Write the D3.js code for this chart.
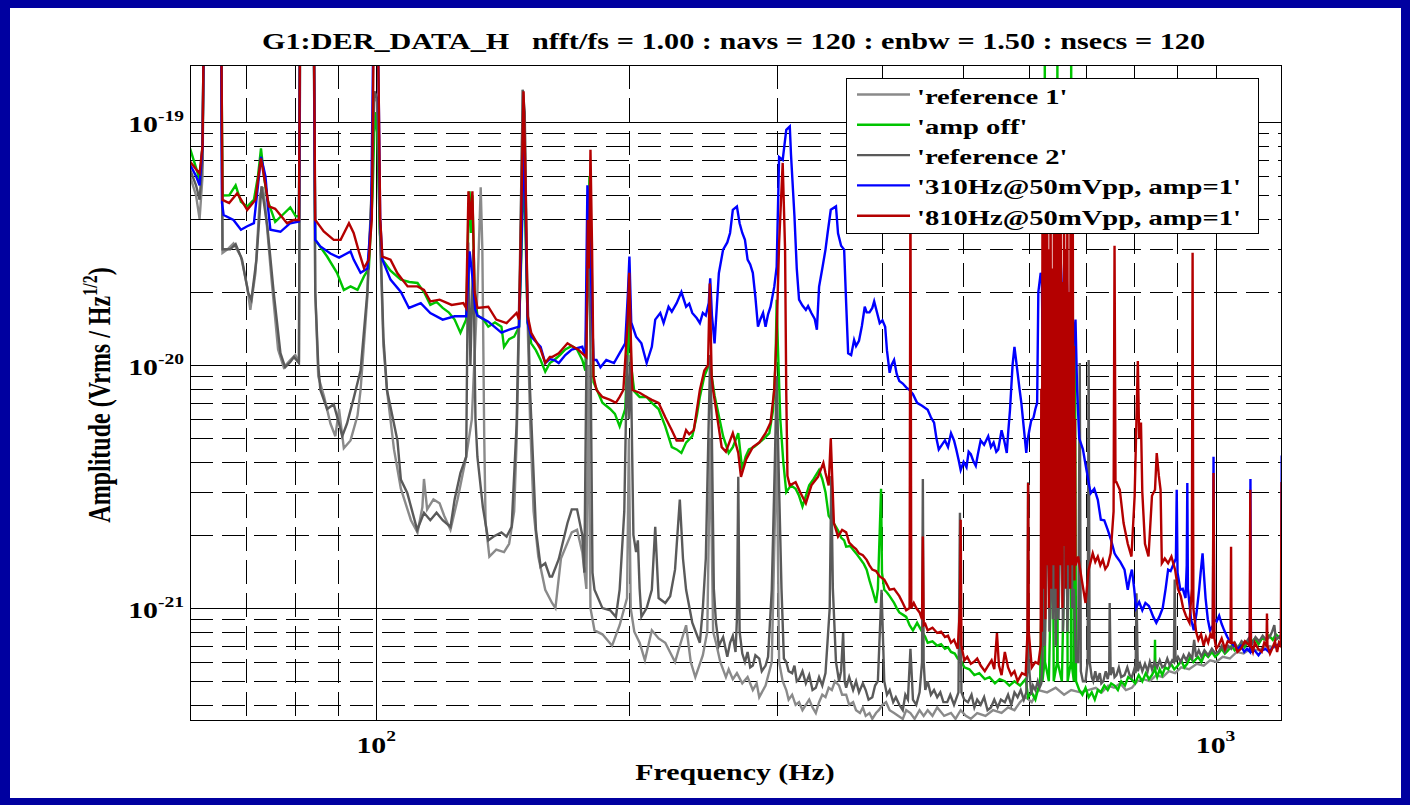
<!DOCTYPE html>
<html>
<head>
<meta charset="utf-8">
<script src="https://cdn.jsdelivr.net/npm/d3@7"></script>
<style>
  html, body { margin: 0; padding: 0; background: #0000a0; }
  svg { display: block; }
</style>
</head>
<body>
<svg id="chart" width="1410" height="805"></svg>
<script>
// Amplitude spectral densities, amplitude in units of 1e-21 Vrms/Hz^(1/2), frequency in Hz.
// Values above the plot ceiling are lines that run off the top of the axes.

const ref1 = [
  [60, 60], [61, 50], [61.6, 40], [62.1, 60], [62.4, 400], [65.3, 400], [65.6, 29], [66.5, 30], [67.6, 31.7],
  [69, 28], [70.2, 21], [70.8, 16.9], [71.8, 24], [72.7, 50], [73.3, 54], [73.8, 44], [75, 23], [76.4, 11.6],
  [77.6, 9.8], [79, 10.5], [80.1, 11], [80.9, 10.3], [81.2, 400], [84.2, 400], [84.6, 20], [85.3, 9], [86.7, 7.4],
  [88.2, 5.75], [89.4, 5.1], [90.3, 6.6], [91.5, 4.55], [93.2, 4.9], [95, 6.2], [95.8, 7.9], [97.6, 19], [98.9, 58],
  [99.5, 134], [100.3, 120], [100.9, 40], [102, 12], [103, 7.9], [105, 4.5], [107, 3.1], [110, 2.3], [112, 2.05],
  [113.5, 2.6], [114, 3.4], [115, 2.55], [117, 2.8], [119, 2.7], [120.5, 2.4], [122.6, 2.1], [125, 2.8], [128, 4.2],
  [130, 6], [132, 20], [133.2, 54], [133.8, 30], [134.5, 5], [135, 2.24], [136.4, 1.63], [139, 1.74], [142, 1.7],
  [144, 1.84], [146, 2.5], [147, 4.9], [148.3, 20], [149.5, 136], [150.3, 100], [151.2, 20], [152.5, 6], [154, 2.5],
  [156, 1.63], [159, 1.19], [162, 1.05], [163.5, 1.0], [166, 1.6], [171, 2.05], [173.5, 2.1], [176, 1.7], [178, 1.2],
  [179, 10], [180, 1.0], [182, 0.81], [186, 0.78], [191, 0.70], [195, 0.85], [199, 1.1], [200, 5], [201, 1.0],
  [203, 0.8], [206, 0.72], [209, 0.61], [213, 0.81], [217, 0.75], [221, 0.72], [227, 0.60], [230, 0.7], [234, 0.85],
  [237, 0.6], [240, 0.52], [245, 0.64], [248, 0.8], [250, 5], [252, 0.8], [254, 0.72], [257, 0.6], [261, 0.52],
  [263, 0.56], [266, 0.51], [269, 0.54], [273, 0.49], [277, 0.52], [281, 0.46], [284, 0.49], [286, 0.43], [291, 0.48],
  [296, 0.6], [300, 5], [302, 0.6], [305, 0.5], [308, 0.46], [310, 0.42], [313, 0.44], [316, 0.4], [319, 0.41],
  [322, 0.38], [325, 0.40], [328, 0.42], [331, 0.39], [334, 0.37], [337, 0.41], [340, 0.44], [343, 0.43], [346, 0.47],
  [349, 0.46], [352, 0.5], [356, 0.48], [359, 0.44], [363, 0.44], [366, 0.4], [370, 0.41], [373, 0.38], [377, 0.37],
  [380, 0.39], [383, 0.36], [387, 0.37], [390, 0.35], [394, 0.37], [397, 0.38], [401, 0.4], [405, 0.41], [409, 0.38],
  [414, 0.37], [419, 0.36], [424, 0.35], [428, 0.38], [433, 0.37], [438, 0.35], [444, 0.38], [449, 0.36], [454, 0.38],
  [460, 0.36], [466, 0.39], [475, 0.36], [484, 0.37], [490, 0.35], [497, 0.38], [504, 0.36], [511, 0.35], [520, 0.37],
  [532, 0.36], [543, 0.38], [556, 0.37], [566, 0.39], [576, 0.38], [585, 0.41], [594, 0.43], [604, 0.41], [615, 0.46],
  [630, 0.45], [645, 0.47], [660, 0.44], [673, 0.46], [690, 0.45], [705, 0.46], [720, 0.47], [732, 0.45], [745, 0.48],
  [757, 0.47], [770, 0.49], [782, 0.46], [795, 0.47], [807, 0.5], [820, 0.51], [835, 0.5], [850, 0.53], [865, 0.52],
  [880, 0.55], [895, 0.54], [910, 0.57], [930, 0.56], [950, 0.59], [968, 0.58], [985, 0.61], [1002, 0.6], [1020, 0.63],
  [1040, 0.62], [1060, 0.66], [1080, 0.65], [1100, 0.68], [1125, 0.67], [1150, 0.7], [1175, 0.69], [1200, 0.72]
];

const ampOff = [
  [60, 78], [61, 65], [61.6, 58], [62.1, 80], [62.4, 400], [65.3, 400], [65.6, 49.9], [66.8, 50], [68, 55], [69, 47],
  [70.2, 45], [71.5, 48], [72.3, 60], [72.9, 78], [73.5, 60], [74.2, 48], [75.8, 38.9], [77.6, 42], [79, 44.6],
  [80.2, 41], [80.9, 41], [81.2, 400], [84.2, 400], [84.6, 32.8], [87.4, 28], [89.8, 24], [91.5, 20.4], [93.2, 21.1],
  [95, 20.4], [96.7, 23.2], [98, 25], [99, 50], [99.6, 110], [100.3, 90], [101, 35], [101.7, 27.2], [104, 24.5],
  [107, 22.5], [109.5, 22], [112, 21.8], [114, 20], [116, 17.7], [118, 18.2], [120, 17.2], [122, 16.5], [124, 15.4],
  [126, 13.6], [128, 15.4], [128.8, 40], [129.2, 52], [129.7, 35], [130.2, 50], [131, 20], [132, 16], [134, 15.5],
  [136, 14.4], [138.5, 15], [141, 14.4], [142, 11.9], [144, 12.8], [146, 13.1], [148, 14.4], [149, 30], [149.7, 60],
  [150.5, 40], [151.5, 15], [153, 12.3], [155, 11.5], [157, 10.5], [159, 9.4], [161, 10.2], [163, 10.5], [165.5, 11],
  [168, 11.6], [171, 12], [173.5, 11.6], [176, 10.5], [177.5, 9.5], [178.5, 25], [179.5, 60], [180.5, 30], [181.5, 8.5],
  [183, 8.0], [186, 7.0], [190, 6.6], [192.5, 6.3], [195, 5.6], [198, 6.6], [199.5, 12], [200.3, 18], [201.2, 10],
  [203, 7.8], [206, 7.4], [210, 7.4], [213, 7.0], [217, 6.6], [221, 5.6], [225, 4.6], [228, 4.5], [231, 4.35],
  [234, 4.8], [238, 5.1], [241, 6.2], [243, 7.4], [246, 9], [249, 10], [250, 11], [251, 9], [253, 7.5], [255, 6.6],
  [259, 5.1], [263, 4.35], [266, 4.6], [270, 5.25], [273, 3.7], [275.5, 4.2], [278, 4.5], [282, 4.6], [286, 4.8],
  [290, 5.0], [294, 5.25], [297, 6.5], [299, 10], [300, 18.6], [301, 12], [303, 6], [305.5, 4], [308, 3.0], [312, 3.2],
  [316, 3.1], [319, 2.9], [322, 2.62], [325, 2.9], [328, 3.2], [332, 3.4], [337, 3.7], [340, 3.4], [343, 3.0],
  [346, 2.4], [349, 2.3], [353, 2.16], [356, 2.05], [358, 1.95], [361, 1.9], [363, 1.79], [367, 1.8], [370, 1.74],
  [374, 1.66], [377, 1.6], [381, 1.52], [384, 1.44], [387, 1.3], [390, 1.19], [394, 1.05], [396, 1.2], [399.5, 3.1],
  [400.5, 1.4], [403, 1.19], [406, 1.16], [409, 1.12], [414, 1.05], [417, 1.0], [420, 0.96], [424, 0.94], [428, 0.92],
  [432, 0.85], [436, 0.81], [441, 0.87], [447, 0.8], [451, 0.76], [454, 0.72], [460, 0.73], [466, 0.70], [471, 0.71],
  [476, 0.68], [480, 0.69], [484, 0.66], [489, 0.65], [493, 0.62], [497, 0.61], [502, 0.57], [509, 0.56], [516, 0.53],
  [523, 0.54], [531, 0.51], [538, 0.52], [546, 0.49], [553, 0.51], [561, 0.50], [568, 0.48], [576, 0.50], [585, 0.48],
  [594, 0.51], [598, 0.43], [604, 0.45], [610, 0.42], [618, 0.5], [620, 0.96], [622, 0.5], [625.6, 0.6], [626, 400],
  [626.4, 0.6], [633, 0.5], [640, 3], [641.5, 0.5], [647.6, 0.6], [648, 400], [648.4, 0.6], [656, 0.5], [665, 5],
  [666.5, 0.5], [672.6, 0.6], [673, 400], [673.4, 0.6], [678, 0.5], [680, 15], [682, 0.5], [688, 0.46], [694, 0.44],
  [700, 0.47], [706, 0.43], [712, 0.45], [718, 0.42], [724, 0.46], [730, 0.45], [737, 0.48], [744, 0.46], [751, 0.49],
  [758, 0.48], [765, 0.46], [772, 0.50], [780, 0.48], [787, 0.52], [794, 0.51], [802, 0.49], [810, 0.53], [818, 0.50],
  [826, 0.54], [833, 0.51], [840, 0.53], [846, 0.56], [847, 0.74], [848, 0.55], [852, 0.52], [858, 0.56], [864, 0.53],
  [871, 0.57], [878, 0.56], [885, 0.59], [893, 0.56], [902, 0.58], [910, 0.61], [918, 0.57], [925, 0.59], [933, 0.63],
  [941, 0.6], [953, 0.63], [962, 0.6], [971, 0.65], [980, 0.63], [990, 0.66], [999, 0.63], [1008, 0.65], [1017, 0.68],
  [1026, 0.65], [1035, 0.67], [1045, 0.7], [1054, 0.67], [1063, 0.69], [1073, 0.72], [1083, 0.69], [1093, 0.73],
  [1102, 0.72], [1114, 0.75], [1125, 0.71], [1136, 0.75], [1147, 0.74], [1158, 0.77], [1170, 0.74], [1180, 0.78],
  [1190, 0.76], [1200, 0.74]
];

const ref2 = [
  [60, 64], [61, 55], [61.6, 48], [62.1, 70], [62.4, 400], [65.3, 400], [65.6, 30], [67, 30], [68, 31.5], [69.2, 27.2],
  [70.4, 19.8], [71, 18.6], [72, 27.2], [73, 54.5], [74.2, 37], [75.5, 19.8], [76.9, 11.2], [77.9, 9.8], [79, 10.3],
  [79.8, 10.8], [80.9, 10.2], [81.2, 400], [84.2, 400], [84.6, 20], [85.3, 10], [85.8, 7.9], [87.4, 6.6], [89, 6.9],
  [90.3, 5.75], [91.1, 5.1], [92.3, 5.75], [94, 7.3], [95.8, 9.5], [97.6, 20], [98.9, 60], [99.5, 134], [100.3, 125],
  [100.9, 45], [102, 13], [103, 7.9], [106, 4.9], [107, 3.38], [108.9, 2.98], [111.9, 2.1], [114, 2.47], [116, 2.3],
  [118, 2.47], [120, 2.3], [122.6, 2.16], [124, 2.8], [126, 3.6], [128, 4.2], [128.7, 32], [129.5, 10], [130.5, 30],
  [131.3, 6], [132, 4.2], [134, 2.6], [136, 1.9], [138, 1.97], [141, 2.05], [143, 1.97], [145, 2.16], [147, 5.75],
  [148.3, 25], [149.5, 136], [150.3, 110], [151.2, 25], [152.5, 7.9], [155, 2.1], [157, 1.48], [159, 1.53], [161, 1.35],
  [162, 1.35], [165, 1.59], [169, 2.24], [171, 2.55], [173.5, 2.55], [176, 2.0], [177, 1.4], [178.2, 15], [179, 38],
  [180, 12], [181, 1.4], [182, 1.19], [186, 1.0], [190, 0.98], [193, 0.92], [195, 1.19], [197.5, 2.5], [199, 11],
  [200, 6], [201, 11], [202.5, 2], [204, 1.7], [205, 1.9], [206, 1.2], [207, 0.92], [210, 1.0], [213, 1.19], [215, 2.16],
  [217, 1.1], [221, 1.05], [224, 1.12], [227, 1.44], [230, 2.8], [232, 1.6], [234, 1.19], [238, 0.87], [243, 0.72],
  [245, 1.0], [247, 1.6], [249, 6], [250, 11], [251, 6], [252.5, 1.2], [254, 0.87], [256, 0.7], [259, 0.76],
  [262, 0.63], [264, 0.72], [266, 0.77], [268, 0.66], [269, 0.9], [270, 3.47], [271, 0.8], [273, 0.65], [275, 0.60],
  [277, 0.66], [279, 0.57], [281, 0.58], [283, 0.64], [286, 0.62], [288, 0.55], [291, 0.58], [293, 0.63], [296, 1.19],
  [298.5, 4], [300, 9], [301.5, 4], [304, 1.2], [306, 0.62], [308, 0.60], [310, 0.55], [313, 0.54], [315, 0.58],
  [317, 0.5], [319, 0.51], [322, 0.55], [325, 0.49], [328, 0.53], [331, 0.46], [334, 0.47], [337, 0.52], [340, 0.48],
  [343, 0.54], [347, 1.0], [348.5, 3.5], [350, 1.2], [353, 0.6], [356, 0.5], [358, 0.55], [360, 0.79], [361.5, 0.5],
  [363, 0.47], [366, 0.52], [370, 0.46], [373, 0.5], [376, 0.45], [380, 0.49], [383, 0.46], [386, 0.42], [390, 0.43],
  [393, 0.48], [396, 0.5], [400, 1.19], [403, 0.5], [406, 0.44], [409, 0.46], [413, 0.41], [416, 0.43], [420, 0.4],
  [424, 0.38], [427, 0.44], [430, 0.42], [433, 0.68], [436, 0.42], [440, 0.4], [444, 0.45], [447, 0.6], [448, 3.4],
  [449, 0.6], [451, 0.46], [454, 0.50], [458, 0.44], [462, 0.46], [466, 0.43], [470, 0.45], [474, 0.41], [479, 0.41],
  [483, 0.44], [488, 0.4], [494, 0.45], [496, 2.47], [498, 0.45], [502, 0.42], [507, 0.41], [512, 0.44], [516, 0.39],
  [520, 0.42], [525, 0.4], [530, 0.43], [535, 0.38], [540, 0.39], [545, 0.42], [550, 0.39], [555, 0.42], [561, 0.41],
  [566, 0.44], [571, 0.4], [576, 0.45], [581, 0.43], [586, 0.46], [591, 0.42], [595, 0.45], [597, 0.6], [598, 3.3],
  [599, 0.6], [603, 0.44], [606, 0.48], [610, 0.46], [614, 0.5], [617, 0.47], [620, 0.49], [622, 0.6], [624, 3],
  [626, 0.7], [629, 1.5], [632, 4], [634, 0.8], [637, 2], [640, 0.9], [643, 2.5], [645, 0.7], [648, 5], [650, 0.9],
  [653, 2], [656, 3], [658, 0.8], [661, 1.5], [664, 4], [666, 0.8], [670, 2], [673, 8], [675, 1], [678, 1.2], [682, 0.6],
  [686, 0.6], [689, 10.2], [691, 0.55], [695, 0.5], [700, 0.5], [704, 0.6], [706, 10.5], [708, 0.6], [712, 0.52],
  [715, 0.5], [719, 0.55], [723, 0.5], [728, 0.54], [731, 0.49], [735, 0.5], [740, 0.55], [744, 0.51], [747, 0.55],
  [748, 1.05], [750, 0.53], [755, 0.57], [758, 0.52], [762, 0.53], [767, 0.57], [772, 0.52], [779, 0.53], [785, 0.57],
  [790, 0.53], [795, 0.52], [800, 0.56], [803, 0.54], [805, 1.15], [808, 0.55], [813, 0.59], [818, 0.55], [824, 0.59],
  [830, 0.55], [835, 0.6], [840, 0.56], [846, 0.6], [852, 0.57], [858, 0.61], [864, 0.57], [870, 0.58], [876, 0.62],
  [882, 0.58], [888, 0.61], [892, 0.6], [894, 1.31], [896, 0.6], [902, 0.63], [909, 0.6], [916, 0.64], [923, 0.61],
  [930, 0.65], [938, 0.62], [943, 0.74], [948, 0.63], [955, 0.67], [962, 0.63], [970, 0.67], [980, 0.64], [990, 0.68],
  [999, 0.65], [1008, 0.66], [1017, 0.7], [1026, 0.66], [1035, 0.7], [1044, 0.68], [1054, 0.72], [1064, 0.68],
  [1074, 0.73], [1084, 0.71], [1095, 0.75], [1105, 0.71], [1116, 0.76], [1127, 0.73], [1138, 0.77], [1149, 0.74],
  [1160, 0.76], [1168, 0.8], [1175, 0.85], [1180, 0.74], [1190, 0.76], [1200, 0.78]
];

const inj310 = [
  [60, 67], [61, 60], [61.6, 55], [62.1, 80], [62.4, 400], [65.3, 400], [65.5, 46.5], [65.8, 41.5], [67.6, 39.6],
  [69, 36.1], [70.2, 37.3], [71.5, 38.4], [72.3, 55], [72.9, 72], [73.8, 60], [74.3, 45], [74.8, 36.1], [76.9, 35.4],
  [79, 38.4], [80.9, 39], [81.2, 400], [84.2, 400], [84.6, 32.8], [85.8, 30.8], [88.2, 28.8], [90.3, 27.7], [93.2, 29.4],
  [94, 27.2], [95.8, 24], [97.6, 25], [98.6, 40], [99.3, 300], [100.4, 300], [101.1, 40], [101.7, 27.2], [104, 22.5],
  [107, 20], [109.4, 17.2], [113, 18], [116, 16.4], [120, 15.4], [124, 15.9], [128, 15.9], [129.2, 29.4], [130.4, 22],
  [131.2, 17], [132, 16], [136, 15.1], [141, 13.6], [144, 14], [148, 14.4], [149.2, 40], [149.8, 81], [150.5, 50],
  [151.5, 15], [153, 13.1], [157, 11.9], [159, 10.2], [161, 10.6], [163, 10.5], [165, 10.2], [168, 11], [171, 11.6],
  [176, 11.9], [177.5, 10.8], [178.5, 55], [179.5, 40], [180.5, 20], [181.5, 10.5], [183, 10.5], [185, 9.8], [188, 10.5],
  [192, 10.2], [195, 11.2], [198, 12.3], [199.5, 20], [200.3, 28], [201.3, 15], [204, 13.1], [207, 12.3], [210, 10.2],
  [213, 11.9], [215, 15.4], [218, 16.4], [220, 14.9], [223, 17.4], [225, 16.6], [228, 18], [231, 20], [234, 17.4],
  [236, 17.9], [238, 16.4], [241, 15.6], [243, 14.9], [245, 16.4], [247, 16], [249, 18], [250, 22.8], [251.2, 16],
  [253, 12.3], [256, 23.9], [259, 29.9], [262, 32], [264, 35], [266, 43.6], [269, 45], [271, 38.4], [273, 35],
  [275, 32.8], [277, 27.2], [279, 26], [281, 24], [283, 19], [285, 14.4], [287, 15.5], [289, 16.4], [291, 14.4],
  [293, 16.2], [295, 17.4], [298, 21], [300, 25.4], [302, 72], [305, 70], [308, 93], [311, 96], [312, 74], [315, 41],
  [317, 25], [319, 18.6], [322, 17.6], [325, 16.9], [327, 17.5], [330, 16.4], [333, 15.5], [335, 14.0], [337, 21],
  [340, 25], [343, 29.9], [345, 35], [348, 43.6], [353, 45], [355, 34.9], [358, 31], [361, 29.9], [363, 18], [365, 11.2],
  [368, 11.0], [371, 12.7], [373, 12], [376, 12.6], [379, 14.5], [382, 17.4], [384, 16.5], [387, 16.5], [390, 17.2],
  [392, 18.3], [395, 16.5], [398, 14.9], [401, 15.3], [404, 14.4], [406, 11.5], [409, 9.3], [411, 10], [414, 10.5],
  [417, 9.2], [420, 8.6], [424, 8.4], [428, 8.1], [432, 7.9], [436, 7.6], [441, 7.0], [447, 6.8], [454, 6.55],
  [458, 6.1], [462, 5.8], [465, 5.0], [468, 4.5], [472, 4.7], [476, 4.9], [480, 4.6], [484, 5.25], [488, 4.9],
  [491, 4.5], [494, 4.1], [497, 3.7], [501, 4.0], [505, 3.8], [508, 4.4], [511, 4.3], [515, 4.0], [518, 3.85],
  [521, 4.3], [525, 4.9], [530, 4.7], [536, 5.1], [540, 4.6], [544, 4.8], [548, 4.4], [551, 4.5], [556, 5.4],
  [560, 4.9], [564, 4.35], [566, 5.2], [569, 6.55], [573, 10], [576, 11.9], [581, 9.3], [584, 8.0], [587, 7.0],
  [591, 5.5], [595, 4.35], [597, 4.9], [600, 5.4], [603, 5.9], [607, 6.1], [610, 6.6], [613, 7.0], [615, 20], [619, 24],
  [621, 22.8], [623, 7.7], [627, 5], [632, 6], [638, 4], [645, 6], [652, 10], [658, 20], [661, 29], [664, 27], [667, 15],
  [672, 10], [677, 12], [681, 15.4], [684, 8], [688, 5], [695, 4.5], [700, 3.9], [704, 3.5], [707, 3.2], [710, 2.97],
  [717, 3.1], [724, 2.79], [730, 2.31], [737, 2.3], [744, 2.10], [751, 1.9], [758, 1.68], [762, 1.63], [770, 1.55],
  [779, 1.44], [786, 1.19], [791, 1.35], [795, 1.44], [800, 1.2], [804, 1.0], [811, 1.06], [818, 0.98], [825, 1.05],
  [833, 1.02], [837, 0.98], [843, 0.92], [850, 0.87], [857, 0.92], [865, 1.0], [872, 1.2], [878, 1.44], [884, 1.42],
  [890, 1.5], [897, 1.6], [899, 3.07], [901, 1.4], [908, 1.19], [914, 1.2], [921, 1.1], [924, 1.5], [925.5, 3.27],
  [927, 1.2], [935, 0.9], [942, 0.81], [949, 0.95], [956, 1.19], [960, 1.4], [965, 1.68], [969, 1.35], [973, 1.1],
  [979, 0.9], [985, 0.81], [993, 0.85], [994.5, 4.2], [996, 0.9], [1003, 0.88], [1010, 0.93], [1017, 0.86], [1024, 0.81],
  [1033, 0.76], [1043, 0.72], [1053, 0.7], [1063, 0.68], [1072, 0.7], [1082, 0.66], [1090, 0.68], [1099, 0.66],
  [1100.5, 3.4], [1102, 0.66], [1113, 0.67], [1125, 0.64], [1136, 0.67], [1147, 0.68], [1158, 0.66], [1170, 0.69],
  [1180, 0.7], [1190, 0.71], [1197, 0.7], [1199, 4.2], [1200, 4.2]
];

const inj810 = [
  [60, 69], [61, 64], [61.6, 61.6], [62.1, 80], [62.4, 400], [65.3, 400], [65.6, 47.9], [66.8, 46.5], [68.3, 51],
  [70.2, 43.6], [71.8, 48], [72.4, 60], [72.9, 71], [73.8, 55], [74.5, 45], [75.8, 44], [78.3, 38.4], [79.8, 39.6],
  [80.9, 39.6], [81.2, 400], [84.2, 400], [84.6, 39.6], [86.6, 35.5], [89, 32.8], [90.7, 32.8], [92.8, 38.4], [94, 35],
  [95.4, 29.2], [96.7, 25.1], [98, 27.2], [98.8, 40], [99.4, 300], [100.4, 300], [101.1, 40], [101.7, 28], [104, 27.2],
  [106, 23.9], [109, 21.1], [112, 21.1], [114, 20.4], [116, 18.3], [119, 18.6], [123, 17.7], [127, 18.0], [128, 17.2],
  [128.8, 52], [129.5, 39.6], [130.2, 52], [131, 20], [132, 17.2], [136, 17.4], [139, 15.4], [143, 14.9], [147, 16.4],
  [148, 15.4], [149, 50], [149.8, 134], [150.6, 60], [151.5, 16], [153, 13.6], [157, 11.6], [159, 10.2], [161, 10.8],
  [162, 10.8], [165, 11.2], [169, 12.3], [171, 12], [174, 11.6], [178, 10.8], [178.7, 39.6], [179.3, 25], [180, 77],
  [180.8, 30], [181.5, 9], [183, 7.9], [186, 7.4], [190, 7.2], [193, 7.0], [195, 7.4], [197, 7.9], [199.3, 15],
  [200.2, 24], [201.2, 12], [202, 7.9], [206, 7.7], [210, 7.4], [213, 7.2], [217, 7.0], [221, 6.1], [225, 5.4],
  [228, 4.9], [232, 4.9], [234, 5.4], [236, 5.2], [239, 5.4], [243, 7.9], [246, 9.5], [248.5, 10], [249.7, 21.7],
  [251, 9], [252, 7.9], [254, 6.6], [258, 4.6], [261, 4.4], [266, 5.25], [270, 4.35], [272, 3.47], [276, 4.1],
  [281, 4.6], [286, 4.8], [291, 5.25], [295, 5.8], [298, 7.9], [300, 13.6], [302, 31.7], [305, 68], [307, 30],
  [308, 7.7], [309, 3.5], [311, 3.2], [316, 3.3], [320, 3.0], [325, 2.7], [330, 3.2], [336, 3.47], [341, 3.96],
  [343, 3.6], [346, 3.2], [348, 5.0], [351, 2.24], [355, 1.97], [359, 2.1], [363, 2.05], [366, 1.86], [370, 1.79],
  [373, 1.75], [376, 1.68], [380, 1.65], [384, 1.58], [387, 1.5], [390, 1.44], [394, 1.42], [398, 1.35], [403, 1.31],
  [406, 1.25], [409, 1.19], [414, 1.2], [420, 1.12], [424, 1.05], [428, 0.98], [432, 1.0], [433, 60], [434, 1.0],
  [437, 1.05], [440, 1.0], [444, 0.96], [447, 0.9], [448, 1.97], [449, 0.85], [451, 0.86], [454, 0.81], [460, 0.83],
  [466, 0.79], [471, 0.8], [476, 0.76], [480, 0.77], [484, 0.72], [488, 0.74], [493, 0.68], [496, 1.0], [497, 2.31],
  [498, 0.7], [502, 0.61], [506, 0.63], [511, 0.59], [515, 0.6], [520, 0.62], [525, 0.58], [531, 0.55], [536, 0.58],
  [541, 0.61], [545, 0.56], [549, 0.79], [552, 0.58], [556, 0.53], [561, 0.66], [566, 0.57], [571, 0.53], [576, 0.55],
  [581, 0.50], [588, 0.54], [594, 0.53], [597, 0.8], [598, 3.27], [599, 0.8], [604, 0.57], [610, 0.6], [615, 0.59],
  [619, 0.7], [620, 8], [621, 0.8], [622, 40], [623, 1.2], [624, 120], [625, 2], [626, 15], [627, 0.9], [628, 50],
  [629, 2.5], [630, 90], [631, 1.5], [632, 25], [633, 1], [634, 30], [635, 2], [636, 70], [637, 1.2], [638, 18], [639, 3],
  [640, 25], [641, 1.5], [642, 110], [643, 2], [644, 35], [645, 1.2], [646, 45], [647, 3], [648, 20], [649, 1], [650, 60],
  [651, 2], [652, 80], [653, 1.5], [654, 35], [655, 2.5], [656, 22], [657, 1], [658, 15], [659, 2.5], [660, 90],
  [661, 1.8], [662, 28], [663, 1.2], [664, 30], [665, 3], [666, 60], [667, 1.5], [668, 18], [669, 2], [670, 20],
  [671, 1.2], [672, 100], [673, 2.5], [674, 35], [675, 1.5], [676, 40], [677, 2], [678, 12], [679, 1.3], [680, 6],
  [681, 1.5], [686, 1.63], [693, 1.3], [700, 1.05], [706, 1.44], [714, 1.68], [719, 1.55], [724, 1.63], [729, 1.5],
  [734, 1.58], [739, 1.45], [744, 1.5], [750, 1.68], [756, 2.5], [758, 31], [760, 3.3], [762, 3.3], [769, 3.07],
  [777, 2.24], [786, 1.84], [794, 1.63], [801, 2.9], [805, 6], [808, 10.4], [811, 5], [815, 5.8], [818, 3], [824, 1.84],
  [832, 1.63], [840, 2.9], [847, 3.07], [851, 4.35], [856, 3.5], [860, 3.07], [863, 1.53], [870, 1.6], [878, 1.53],
  [886, 1.63], [895, 1.44], [902, 1.2], [909, 1.12], [915, 1.0], [922, 0.93], [931, 0.87], [937, 1.2], [939, 29],
  [941, 1.0], [948, 0.8], [954, 0.74], [961, 0.78], [968, 0.7], [974, 0.76], [980, 0.72], [986, 0.78], [992, 0.75],
  [994.5, 3.6], [997, 0.75], [1002, 0.68], [1008, 0.7], [1017, 0.75], [1026, 0.68], [1034, 0.73], [1042, 0.72],
  [1043.5, 1.79], [1045, 0.72], [1053, 0.72], [1062, 0.66], [1072, 0.68], [1084, 0.73], [1098, 0.7], [1100, 3.07],
  [1102, 0.7], [1108, 0.66], [1114, 0.72], [1124, 0.68], [1135, 0.66], [1143, 0.72], [1150, 0.7], [1151.5, 0.95],
  [1153, 0.7], [1161, 0.65], [1170, 0.69], [1177, 0.73], [1184, 0.66], [1190, 0.72], [1196, 0.7], [1198.5, 3.27],
  [1200, 3.27]
];

const seriesNames = ["'reference 1'", "'amp off'", "'reference 2'", "'310Hz@50mVpp, amp=1'", "'810Hz@50mVpp, amp=1'"];
const seriesColors = ["#8a8a8a", "#00c400", "#5a5a5a", "#0000ff", "#b40000"];
const seriesData = [ref1, ampOff, ref2, inj310, inj810];

const xDomain = [60, 1200];          // Hz
const yDomain = [0.343, 172];        // 1e-21 Vrms/Hz^(1/2)
const xDecadeTicks = [100, 1000];
const xDecadeExps = ["2", "3"];
const yDecadeTicks = [1, 10, 100];
const yDecadeExps = ["-21", "-20", "-19"];

const titleText = "G1:DER_DATA_H   nfft/fs = 1.00 : navs = 120 : enbw = 1.50 : nsecs = 120";
const xLabelText = "Frequency (Hz)";

// ---- layout ----
const FONT = '"Liberation Serif"';
const SX = 1.3;                       // horizontal stretch of all lettering
const plot = { left: 190, right: 1282, top: 65, bottom: 721 };

const svg = d3.select("#chart");

// blue frame and white page
svg.append("rect").attr("x", 0).attr("y", 0).attr("width", 1410).attr("height", 805).attr("fill", "#0000a0");
svg.append("rect").attr("x", 10).attr("y", 8).attr("width", 1391).attr("height", 790).attr("fill", "#fff");

const x = d3.scaleLog().domain(xDomain).range([plot.left, plot.right]);
const y = d3.scaleLog().domain(yDomain).range([plot.bottom, plot.top]);

// grid
const grid = svg.append("g").attr("shape-rendering", "crispEdges");
const xGridVals = x.ticks().filter(v => v > xDomain[0] && v < xDomain[1]);
const yGridVals = y.ticks().filter(v => v > yDomain[0] && v < yDomain[1]);
const isDecade = v => Math.abs(Math.log10(v) - Math.round(Math.log10(v))) < 1e-9;

grid.selectAll("line.hg").data(yGridVals).join("line")
  .attr("x1", plot.left).attr("x2", plot.right)
  .attr("y1", d => Math.round(y(d)) + 0.5).attr("y2", d => Math.round(y(d)) + 0.5)
  .attr("stroke", "#000").attr("stroke-width", 1)
  .attr("stroke-dasharray", d => isDecade(d) ? null : "23,9");

grid.selectAll("line.vg").data(xGridVals).join("line")
  .attr("y1", plot.top).attr("y2", plot.bottom)
  .attr("x1", d => Math.round(x(d)) + 0.5).attr("x2", d => Math.round(x(d)) + 0.5)
  .attr("stroke", "#000").attr("stroke-width", 1)
  .attr("stroke-dasharray", d => isDecade(d) ? null : "24,9");

// spectra
svg.append("clipPath").attr("id", "plotClip").append("rect")
  .attr("x", plot.left).attr("y", plot.top)
  .attr("width", plot.right - plot.left).attr("height", plot.bottom - plot.top);

const line = d3.line().x(d => x(d[0])).y(d => y(d[1]));
svg.append("g").attr("clip-path", "url(#plotClip)")
  .selectAll("path").data(seriesData).join("path")
  .attr("d", line)
  .attr("fill", "none")
  .attr("stroke", (d, i) => seriesColors[i])
  .attr("stroke-width", 2.4)
  .attr("stroke-linejoin", "miter");

// axes box
svg.append("rect")
  .attr("x", plot.left + 0.5).attr("y", plot.top + 0.5)
  .attr("width", plot.right - plot.left - 1).attr("height", plot.bottom - plot.top - 1)
  .attr("fill", "none").attr("stroke", "#000").attr("stroke-width", 1);

function styled(t, size) {
  return t.style("font-family", FONT).style("font-weight", "bold").style("font-size", size + "px").attr("fill", "#000");
}

// helper for horizontally stretched lettering
function stretched(parent, px, py, anchor, size) {
  return styled(parent.append("text")
    .attr("transform", `translate(${px},${py}) scale(${SX},1)`)
    .attr("text-anchor", anchor), size);
}

// y tick labels 10^n
yDecadeTicks.forEach((v, i) => {
  const t = stretched(svg, 184, y(v) + 9.4, "end", 23);
  t.append("tspan").text("10");
  t.append("tspan").style("font-size", "15px").attr("dy", -11).text(yDecadeExps[i]);
});

// x tick labels 10^n
xDecadeTicks.forEach((v, i) => {
  const t = stretched(svg, x(v), 753.3, "middle", 23);
  t.append("tspan").text("10");
  t.append("tspan").style("font-size", "15px").attr("dy", -12).text(xDecadeExps[i]);
});

// title
styled(svg.append("text"), 23)
  .attr("x", 262).attr("y", 48.5)
  .attr("textLength", 943).attr("lengthAdjust", "spacingAndGlyphs")
  .style("white-space", "pre")
  .text(titleText);

// x label
stretched(svg, (plot.left + plot.right) / 2 - 1, 780, "middle", 23).text(xLabelText);

// y label
const yl = styled(svg.append("text"), 24)
  .attr("transform", `translate(110,395) scale(${SX},1) rotate(-90)`)
  .attr("text-anchor", "middle");
yl.append("tspan").text("Amplitude (Vrms / Hz");
yl.append("tspan").style("font-size", "16px").attr("dy", -10).text("1/2");
yl.append("tspan").attr("dy", 10).text(")");

// legend
const lg = svg.append("g");
lg.append("rect").attr("x", 846.5).attr("y", 78.5).attr("width", 412).attr("height", 155)
  .attr("fill", "#fff").attr("stroke", "#000").attr("stroke-width", 1);
seriesNames.forEach((name, i) => {
  const cy = 94.5 + i * 30.3;
  lg.append("line").attr("x1", 857).attr("x2", 910).attr("y1", cy).attr("y2", cy)
    .attr("stroke", seriesColors[i]).attr("stroke-width", 2.4);
  stretched(lg, 917, cy + 9, "start", 22).text(name);
});
</script>
</body>
</html>
